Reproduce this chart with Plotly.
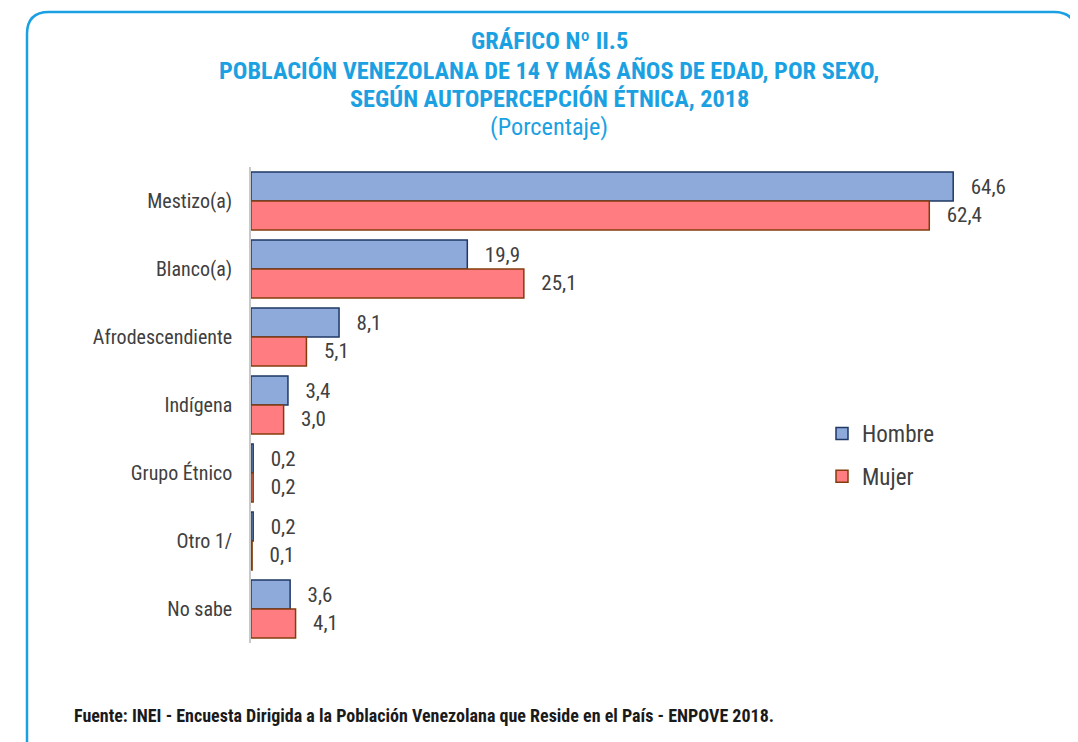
import plotly.graph_objects as go

categorias = ['Mestizo(a)', 'Blanco(a)', 'Afrodescendiente', 'Indígena', 'Grupo Étnico', 'Otro 1/', 'No sabe']
hombre = [64.6, 19.9, 8.1, 3.4, 0.2, 0.2, 3.6]
mujer = [62.4, 25.1, 5.1, 3.0, 0.2, 0.1, 4.1]

OFF = 8  # margen del body de la pagina
W, H = 1078 - OFF, 742 - OFF
L, T = 251 - OFF, 167 - OFF
R, B = W - (1012 - OFF), H - (643 - OFF)
pw, ph = W - L - R, H - T - B

def px(x):
    return (x - OFF - L) / pw

def py(y):
    return (H - B - (y - OFF)) / ph

def etiqueta(v):
    return ['\u00a0\u00a0\u00a0' + f'{x:.1f}'.replace('.', ',') for x in v]

fnt = 'Liberation Sans Narrow, Arial Narrow, Roboto Condensed, Liberation Sans, sans-serif'
gris = '#404040'
azul = '#1ba1e2'

fig = go.Figure()
fig.add_trace(go.Bar(y=categorias, x=hombre, orientation='h', name='Hombre',
                     legendgroup='h',
                     marker={'color': '#8eaadb', 'line': {'color': '#1f3864', 'width': 1.5}},
                     text=etiqueta(hombre), textposition='outside', cliponaxis=False,
                     textfont={'size': 21, 'color': gris, 'family': fnt}))
fig.add_trace(go.Bar(y=categorias, x=mujer, orientation='h', name='Mujer',
                     legendgroup='m',
                     marker={'color': '#ff7c80', 'line': {'color': '#843c0c', 'width': 1.5}},
                     text=etiqueta(mujer), textposition='outside', cliponaxis=False,
                     textfont={'size': 21, 'color': gris, 'family': fnt}))

# marco redondeado
r = 22
x0, x1, y0, y1 = 27, 1076, 12, 800
rx, ry = r / pw, r / ph
path = (f'M {px(x0)},{py(y1)} L {px(x0)},{py(y0)-ry} '
        f'Q {px(x0)},{py(y0)} {px(x0)+rx},{py(y0)} '
        f'L {px(x1)-rx},{py(y0)} Q {px(x1)},{py(y0)} {px(x1)},{py(y0)-ry} '
        f'L {px(x1)},{py(y1)}')

titulos = [('<b>GRÁFICO Nº II.5</b>', 40),
           ('<b>POBLACIÓN VENEZOLANA DE 14 Y MÁS AÑOS DE EDAD, POR SEXO,</b>', 70),
           ('<b>SEGÚN AUTOPERCEPCIÓN ÉTNICA, 2018</b>', 98),
           ('(Porcentaje)', 126)]
anots = []
for txt, y in titulos:
    anots.append({'text': txt, 'x': px(549), 'y': py(y), 'xref': 'paper', 'yref': 'paper',
                  'showarrow': False, 'xanchor': 'center', 'yanchor': 'middle',
                  'font': {'size': 24.3, 'color': azul, 'family': fnt}})
anots.append({'text': '<b>Fuente: INEI - Encuesta Dirigida a la Población Venezolana que Reside en el País - ENPOVE 2018.</b>',
              'x': px(72), 'y': py(715), 'xref': 'paper', 'yref': 'paper', 'showarrow': False,
              'xanchor': 'left', 'yanchor': 'middle',
              'font': {'size': 18, 'color': '#1a1a1a', 'family': fnt}})

fig.update_layout(width=W, height=H,
                  margin={'l': L, 'r': R, 't': T, 'b': B, 'autoexpand': False},
                  paper_bgcolor='white', plot_bgcolor='white',
                  barmode='group', bargap=0.15, bargroupgap=0,
                  font={'family': fnt, 'color': gris, 'size': 20},
                  xaxis={'range': [0, pw / 10.87], 'visible': False},
                  yaxis={'autorange': 'reversed', 'showline': True, 'linecolor': '#c8c8c8',
                         'linewidth': 1.5, 'ticks': '', 'showgrid': False,
                         'ticklabelstandoff': 13,
                         'tickfont': {'size': 20, 'color': gris, 'family': fnt}},
                  legend={'x': px(822), 'y': py(412), 'xanchor': 'left', 'yanchor': 'top',
                          'tracegroupgap': 10, 'font': {'size': 23, 'color': gris, 'family': fnt},
                          'itemwidth': 30, 'bgcolor': 'rgba(0,0,0,0)'},
                  shapes=[{'type': 'path', 'path': path, 'xref': 'paper', 'yref': 'paper',
                           'line': {'color': azul, 'width': 2.5}, 'layer': 'below'}],
                  annotations=anots)

fig.write_html('out.html')
